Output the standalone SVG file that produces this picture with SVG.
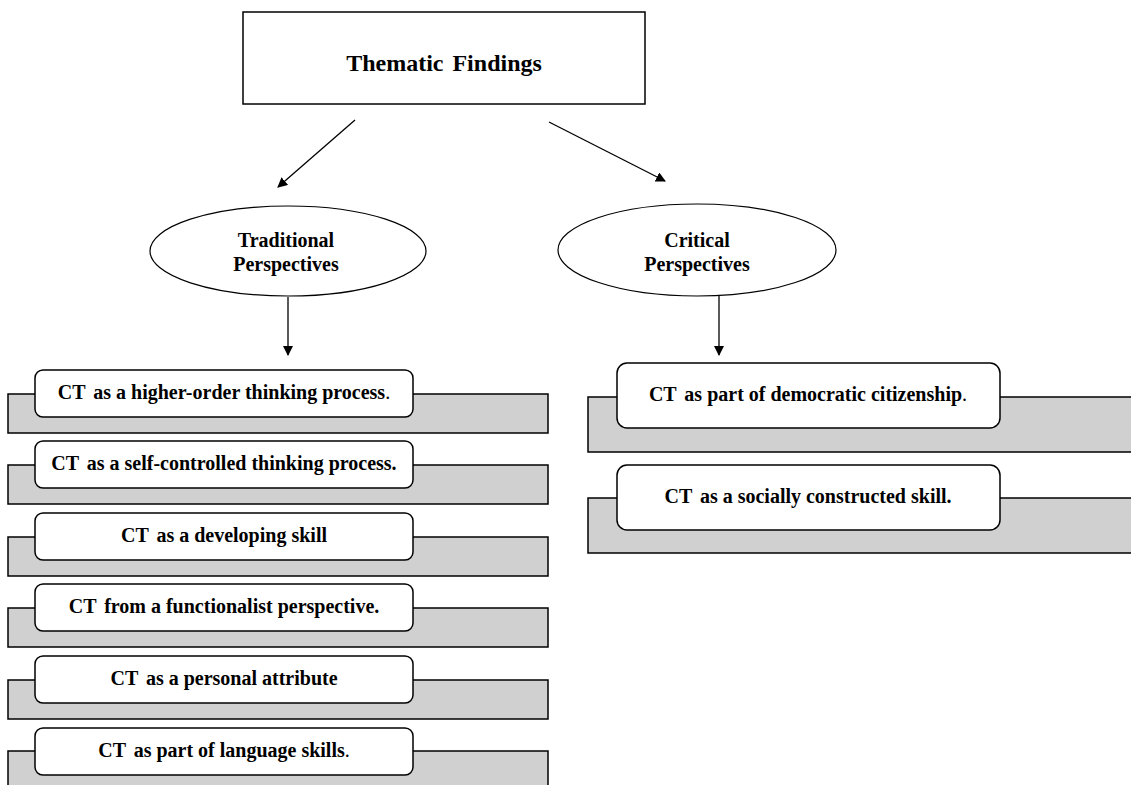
<svg xmlns="http://www.w3.org/2000/svg" width="1131" height="785" viewBox="0 0 1131 785">
<defs>
<marker id="ah" markerWidth="10" markerHeight="10" refX="9" refY="5" orient="auto" markerUnits="userSpaceOnUse">
<path d="M0,0 L10,5 L0,10 Z" fill="#000"/>
</marker>
<style>
.t{font-family:"Liberation Serif","Times New Roman",serif;font-weight:bold;fill:#000;text-anchor:middle}
.n{font-weight:normal}
.box{fill:#fff;stroke:#000;stroke-width:1.5}
.ell{fill:#fff;stroke:#000;stroke-width:1.2}
.back{fill:#d0d0d0;stroke:#000;stroke-width:1.5}
.front{fill:#fff;stroke:#000;stroke-width:1.5}
.c{stroke:#000;stroke-width:1.3;fill:none;marker-end:url(#ah)}
</style>
</defs>
<g id="title">
<rect class="box" x="243" y="12" width="402" height="92"/>
<text class="t" x="444" y="71" font-size="24">Thematic <tspan dx="3">Findings</tspan></text>
</g>
<g id="traditional">
<ellipse class="ell" cx="288" cy="251" rx="138" ry="45"/>
<text class="t" x="286" y="247" font-size="20">Traditional</text>
<text class="t" x="286" y="271" font-size="20">Perspectives</text>
</g>
<g id="critical">
<ellipse class="ell" cx="697" cy="250" rx="139" ry="46"/>
<text class="t" x="697" y="247" font-size="20">Critical</text>
<text class="t" x="697" y="271" font-size="20">Perspectives</text>
</g>
<g id="connectors">
<line class="c" x1="355" y1="120" x2="278" y2="187"/>
<line class="c" x1="549" y1="122" x2="665" y2="181"/>
<line class="c" x1="288" y1="297" x2="288" y2="355"/>
<line class="c" x1="719" y1="296" x2="719" y2="355"/>
</g>
<g id="item1">
<rect class="back" x="8" y="394" width="540" height="39"/>
<rect class="front" x="35" y="370" width="378" height="47" rx="8"/>
<text class="t" x="224" y="399" font-size="20">CT <tspan dx="3">as a higher-order thinking process</tspan><tspan class="n">.</tspan></text>
</g>
<g id="item2">
<rect class="back" x="8" y="465" width="540" height="39"/>
<rect class="front" x="35" y="441" width="378" height="47" rx="8"/>
<text class="t" x="224" y="470" font-size="20">CT <tspan dx="3">as a self-controlled thinking process.</tspan></text>
</g>
<g id="item3">
<rect class="back" x="8" y="537" width="540" height="39"/>
<rect class="front" x="35" y="513" width="378" height="47" rx="8"/>
<text class="t" x="224" y="542" font-size="20">CT <tspan dx="3">as a developing skill</tspan></text>
</g>
<g id="item4">
<rect class="back" x="8" y="608" width="540" height="39"/>
<rect class="front" x="35" y="584" width="378" height="47" rx="8"/>
<text class="t" x="224" y="613" font-size="20">CT <tspan dx="3">from a functionalist perspective.</tspan></text>
</g>
<g id="item5">
<rect class="back" x="8" y="680" width="540" height="39"/>
<rect class="front" x="35" y="656" width="378" height="47" rx="8"/>
<text class="t" x="224" y="685" font-size="20">CT <tspan dx="3">as a personal attribute</tspan></text>
</g>
<g id="item6">
<rect class="back" x="8" y="751" width="540" height="39"/>
<rect class="front" x="35" y="728" width="378" height="47" rx="8"/>
<text class="t" x="224" y="757" font-size="20">CT <tspan dx="3">as part of language skills</tspan><tspan class="n">.</tspan></text>
</g>
<g id="item7">
<rect class="back" x="588" y="397" width="547" height="55"/>
<rect class="front" x="617" y="363" width="383" height="65" rx="10"/>
<text class="t" x="808" y="401" font-size="20">CT <tspan dx="3">as part of democratic citizenship</tspan><tspan class="n">.</tspan></text>
</g>
<g id="item8">
<rect class="back" x="588" y="498" width="547" height="55"/>
<rect class="front" x="617" y="465" width="383" height="65" rx="10"/>
<text class="t" x="808" y="503" font-size="20">CT <tspan dx="3">as a socially constructed skill.</tspan></text>
</g>
</svg>
